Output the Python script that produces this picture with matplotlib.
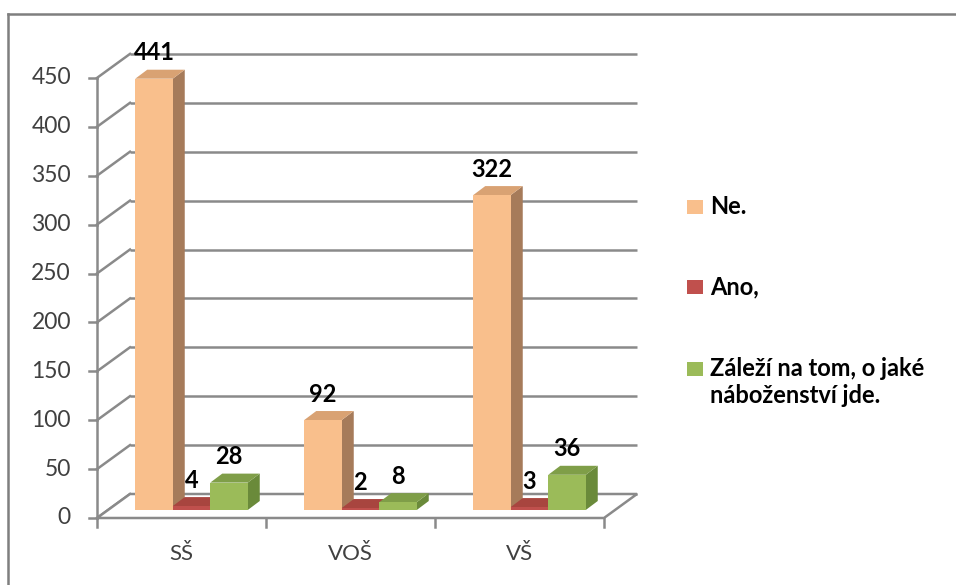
import matplotlib
matplotlib.use('Agg')
import matplotlib.pyplot as plt
from matplotlib.patches import Polygon, Rectangle

plt.rcParams['font.family'] = ['Lato', 'DejaVu Sans']

# ---------------- data ----------------
categories = ['SŠ', 'VOŠ', 'VŠ']
series_names = ['Ne.', 'Ano,', 'Záleží na tom, o jaké\nnáboženství jde.']
ne = [441, 92, 322]
ano = [4, 2, 3]
zalezi = [28, 8, 36]
y_ticks = [0, 50, 100, 150, 200, 250, 300, 350, 400, 450]

series_values = [ne, ano, zalezi]
front_colors = ['#F9BF8C', '#C0504D', '#9BBB59']
side_colors = ['#A67B5A', '#8E3A38', '#6A8A3A']
top_colors = ['#D9A273', '#A8453F', '#7F9E48']

# ---------------- geometry (pixels -> data) ----------------
W, H = 956, 585
X0, Y0 = 97, 518          # front-left corner of plot (px)
CATW, VS = 169.0, 0.978   # px per category, px per value unit

fig = plt.figure(figsize=(W / 100, H / 100), dpi=100)
ax = fig.add_axes([0, 0, 1, 1])
ax.set_xlim(-0.5 - X0 / CATW, -0.5 + (W - X0) / CATW)
ax.set_ylim((Y0 - H) / VS, Y0 / VS)
ax.axis('off')


def dxp(p):
    return p / CATW


def dyp(p):
    return p / VS


def px(xp, yp):
    return (-0.5 + (xp - X0) / CATW, (Y0 - yp) / VS)


GRID = '#8a8a8a'
LW = 1.8
n = len(categories)
xl, xr = -0.5, n - 0.5
WDX, WDY = dxp(33), dyp(24)

# back wall gridlines & left wall diagonals
for t in y_ticks:
    ax.plot([xl + WDX, xr + WDX], [t + WDY, t + WDY], color=GRID, lw=LW, zorder=1,
            solid_capstyle='butt')
    ax.plot([xl, xl + WDX], [t, t + WDY], color=GRID, lw=LW, zorder=1)
# floor
ax.add_patch(Polygon([(xl, 0), (xr, 0), (xr + WDX, WDY), (xl + WDX, WDY)],
                     closed=True, facecolor='white', edgecolor=GRID, lw=LW, zorder=1.5))
# front y-axis
ax.plot([xl, xl], [0, y_ticks[-1]], color=GRID, lw=LW, zorder=2)
for t in y_ticks:
    ax.plot([xl - dxp(8), xl], [t, t], color=GRID, lw=LW, zorder=2)
    ax.text(xl - dxp(26), t, str(t), ha='right', va='center', fontsize=16.5,
            color='#404040')
# category axis ticks and labels
for k in range(n + 1):
    ax.plot([xl + k, xl + k], [0, -dyp(9)], color=GRID, lw=LW, zorder=2)
for i, c in enumerate(categories):
    ax.text(i, -dyp(36), c, ha='center', va='center', fontsize=16, color='#404040')

# bars (pseudo 3D)
BW = dxp(37.5)
FDX, FDY = dxp(10), dyp(8)
TDX, TDY = dxp(12), dyp(9)
z = 3
for i in range(n):
    for j, vals in enumerate(series_values):
        v = vals[i]
        x0 = i - 1.5 * BW + j * BW + FDX
        base = FDY
        side = Polygon([(x0 + BW, base), (x0 + BW + TDX, base + TDY),
                        (x0 + BW + TDX, base + TDY + v), (x0 + BW, base + v)],
                       closed=True, facecolor=side_colors[j], edgecolor='none', zorder=z)
        top = Polygon([(x0, base + v), (x0 + TDX, base + v + TDY),
                       (x0 + BW + TDX, base + v + TDY), (x0 + BW, base + v)],
                      closed=True, facecolor=top_colors[j], edgecolor='none', zorder=z)
        front = Rectangle((x0, base), BW, v, facecolor=front_colors[j],
                          edgecolor='none', zorder=z + 0.5)
        ax.add_patch(side)
        ax.add_patch(top)
        ax.add_patch(front)
        z += 1
        ax.text(x0 + BW / 2, base + v + TDY + dyp(17), str(v), ha='center',
                va='center', fontsize=17, fontweight='bold', color='black', zorder=50)

# legend (manual)
leg_y = [207, 287, 369]
for j, name in enumerate(series_names):
    lx, ly = px(687, leg_y[j] + 7)
    ax.add_patch(Rectangle((lx, ly), dxp(16), dyp(14), facecolor=front_colors[j],
                           edgecolor='none', zorder=60))
    tx, ty = px(710, leg_y[j])
    ax.text(tx, ty + dyp(11.5), name, ha='left', va='top', fontsize=17,
            fontweight='bold', color='black', linespacing=1.2, zorder=60)

# outer border (top and left edges)
bx0, by0 = px(8, 14)
bx1, _ = px(W + 5, 14)
_, by1 = px(8, H + 5)
ax.plot([bx0, bx1], [by0, by0], color='#7f7f7f', lw=1.8, zorder=70)
ax.plot([bx0, bx0], [by0, by1], color='#7f7f7f', lw=1.8, zorder=70)

fig.savefig('out.png', dpi=100)
